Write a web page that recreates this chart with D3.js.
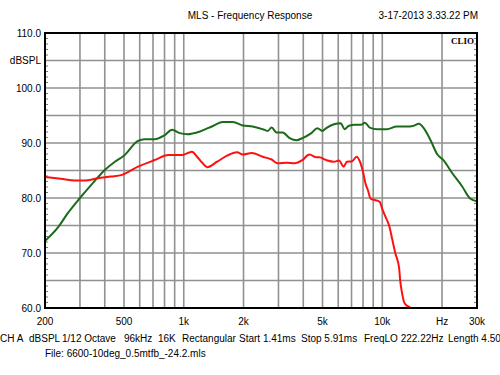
<!DOCTYPE html>
<html>
<head>
<meta charset="utf-8">
<script src="https://cdn.jsdelivr.net/npm/d3@7"></script>
<style>
  body { margin: 0; background: #fff; }
  svg text { font-family: "Liberation Sans", Arial, sans-serif; font-size: 10px; fill: #000; }
</style>
</head>
<body>
<div id="display"></div>
<script>
// data (Hz, dBSPL)
const green_freq = [200, 233, 260, 300, 350, 400, 450, 500, 588, 636, 713, 800, 874, 956, 1040, 1208, 1402, 1574, 1767, 1983, 2226, 2499, 2647, 2770, 2937, 3148, 3412, 3698, 3962, 4393, 4709, 4990, 5219, 5709, 6175, 6458, 6753, 7300, 7813, 8170, 8643, 9450, 10565, 11813, 13210, 14287, 15287, 16173, 17507, 18955, 20316, 22533, 25262, 27700, 30000];
const green_db = [72.2, 74.7, 77.2, 80.0, 82.8, 85.1, 86.6, 87.7, 90.4, 90.7, 90.7, 91.4, 92.4, 91.8, 91.6, 92.1, 93.1, 93.8, 93.8, 93.2, 93.0, 92.5, 92.2, 92.8, 91.9, 91.9, 90.9, 90.5, 90.9, 91.8, 92.7, 92.2, 92.7, 93.4, 93.6, 92.5, 93.1, 93.3, 93.3, 93.7, 92.8, 92.5, 92.5, 93.0, 93.0, 93.1, 93.5, 92.7, 90.5, 87.9, 86.9, 84.5, 82.1, 79.9, 79.4];

const red_freq = [200, 240, 283, 318, 370, 430, 488, 588, 713, 836, 980, 1100, 1167, 1240, 1312, 1473, 1653, 1856, 1983, 2200, 2499, 2770, 2970, 3299, 3616, 3962, 4293, 4654, 4817, 5219, 5709, 6056, 6387, 6640, 7054, 7414, 7719, 7988, 8266, 8450, 8737, 9250, 9692, 10045, 10375, 10860, 11236, 11625, 12162, 12300, 12580, 12870, 13210, 13660, 13970];
const red_db = [83.8, 83.5, 83.2, 83.2, 83.6, 83.9, 84.2, 85.7, 86.9, 87.8, 87.8, 88.4, 87.5, 86.4, 85.6, 86.6, 87.7, 88.3, 87.9, 88.2, 87.5, 87.0, 86.3, 86.4, 86.3, 86.9, 87.9, 87.4, 87.4, 86.9, 86.6, 86.8, 85.7, 86.6, 86.7, 87.5, 86.6, 84.8, 82.4, 81.5, 79.9, 79.6, 79.3, 77.8, 76.6, 74.8, 72.4, 70.0, 67.2, 65.1, 62.7, 61.1, 60.5, 60.2, 60.0];

const y_ticks = [110, 100, 90, 80, 70, 60];
const x_grid = [300, 400, 500, 600, 700, 800, 900, 1000, 2000, 3000, 4000, 5000, 6000, 7000, 8000, 9000, 10000, 20000];
const x_labels = [[200, "200"], [500, "500"], [1000, "1k"], [2000, "2k"], [5000, "5k"], [10000, "10k"], [20000, "Hz"], [30000, "30k"]];

const width = 500, height = 375;
const plot_left = 45, plot_right = 477, plot_top = 33, plot_bottom = 308;

const svg = d3.select("#display").append("svg")
    .attr("width", width)
    .attr("height", height);

const x_scale = d3.scaleLog().domain([200, 30000]).range([plot_left, plot_right]);
const y_scale = d3.scaleLinear().domain([60, 110]).range([plot_bottom, plot_top]);

// grid
const grid = svg.append("g").attr("stroke", "#919191").attr("stroke-width", 1.6);
grid.selectAll("line.v").data(x_grid).join("line")
    .attr("class", "v")
    .attr("x1", d => x_scale(d)).attr("x2", d => x_scale(d))
    .attr("y1", plot_top).attr("y2", plot_bottom);
grid.selectAll("line.h").data(d3.range(65, 110, 5)).join("line")
    .attr("class", "h")
    .attr("x1", plot_left).attr("x2", plot_right)
    .attr("y1", d => y_scale(d)).attr("y2", d => y_scale(d));

// minor ticks on left and right spines
const minor = d3.range(61, 110, 1).filter(d => d % 5 !== 0);
const ticks = svg.append("g").attr("stroke", "#777").attr("stroke-width", 1);
ticks.selectAll("line.l").data(minor).join("line")
    .attr("class", "l")
    .attr("x1", plot_left).attr("x2", plot_left + 3)
    .attr("y1", d => y_scale(d)).attr("y2", d => y_scale(d));
ticks.selectAll("line.r").data(minor).join("line")
    .attr("class", "r")
    .attr("x1", plot_right - 3).attr("x2", plot_right)
    .attr("y1", d => y_scale(d)).attr("y2", d => y_scale(d));

// curves
const line = (fs, ds) => d3.line()
    .x((d, i) => x_scale(fs[i]))
    .y(d => y_scale(d))
    .curve(d3.curveMonotoneX)(ds);

svg.append("path").attr("d", line(green_freq, green_db))
    .attr("fill", "none").attr("stroke", "#1b6b1b").attr("stroke-width", 2);
svg.append("path").attr("d", line(red_freq, red_db))
    .attr("fill", "none").attr("stroke", "#ff1010").attr("stroke-width", 2);

// frame
svg.append("rect").attr("x", plot_left).attr("y", plot_top)
    .attr("width", plot_right - plot_left).attr("height", plot_bottom - plot_top)
    .attr("fill", "none").attr("stroke", "#000").attr("stroke-width", 2);

// y labels
svg.selectAll("text.y").data(y_ticks).join("text")
    .attr("class", "y")
    .attr("x", 41).attr("y", d => y_scale(d) + 3.5)
    .attr("text-anchor", "end")
    .text(d => d.toFixed(1));
svg.append("text").attr("x", 41).attr("y", y_scale(105) + 3.5)
    .attr("text-anchor", "end").text("dBSPL");

// x labels
svg.selectAll("text.x").data(x_labels).join("text")
    .attr("class", "x")
    .attr("x", d => x_scale(d[0])).attr("y", 325)
    .attr("text-anchor", "middle")
    .text(d => d[1]);

// titles
svg.append("text").attr("x", 250).attr("y", 19).attr("text-anchor", "middle")
    .text("MLS - Frequency Response");
svg.append("text").attr("x", 478).attr("y", 19).attr("text-anchor", "end")
    .text("3-17-2013 3.33.22 PM");
svg.append("text").attr("x", 474).attr("y", 44).attr("text-anchor", "end")
    .style("font-family", "'Liberation Serif', serif").style("font-weight", "bold").style("font-size", "9px")
    .text("CLIO");

// info lines
const info = [[0, "CH A"], [29, "dBSPL"], [62, "1/12 Octave"], [124, "96kHz"], [158, "16K"], [182, "Rectangular"], [239, "Start 1.41ms"], [301, "Stop 5.91ms"], [364, "FreqLO 222.22Hz"], [448, "Length 4.50ms"]];
svg.selectAll("text.info").data(info).join("text")
    .attr("class", "info")
    .attr("x", d => d[0]).attr("y", 342)
    .text(d => d[1]);
svg.append("text").attr("x", 45).attr("y", 357)
    .text("File: 6600-10deg_0.5mtfb_-24.2.mls");
</script>
</body>
</html>
